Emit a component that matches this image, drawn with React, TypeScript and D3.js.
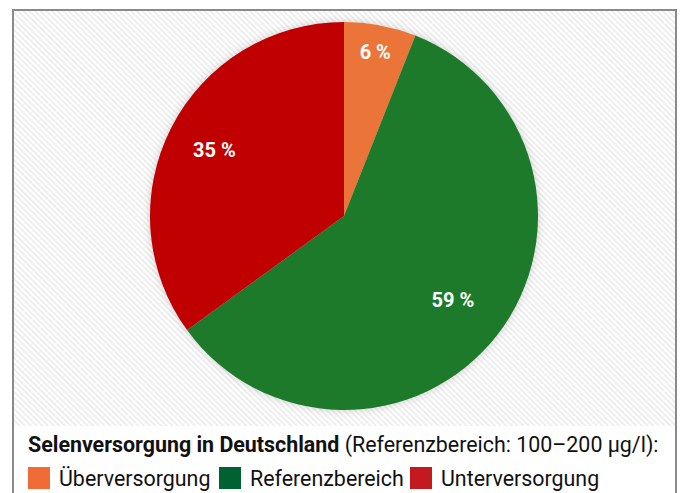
import React from 'react';
import * as d3 from 'd3';

const width = 680;
const height = 493;

const labels = ['Überversorgung', 'Referenzbereich', 'Unterversorgung'];
const values = [6, 59, 35];
const pieColors = ['#eb7438', '#1e7a2c', '#c00000'];
const legendColors = ['#ef6c36', '#006233', '#c41a1f'];

const cx = 344;
const cy = 216;
const radius = 194;

export default function App() {
  const pie = d3.pie<number>().sort(null).value(d => d);
  const arcs = pie(values);
  const arc = d3.arc<d3.PieArcDatum<number>>().innerRadius(0).outerRadius(radius);
  // label distance from centre per slice, as a share of the radius
  const labelR = [0.86, 0.71, 0.75];

  const legendX = [28, 219, 410];

  return (
    <svg width={width} height={height} style={{ position: 'absolute', left: 0, top: 0 }} fontFamily="Roboto, sans-serif">
      <defs>
        <pattern id="stripes" width="4" height="4" patternUnits="userSpaceOnUse" patternTransform="rotate(-45)">
          <rect width="4" height="4" fill="#ffffff" />
          <rect width="1.6" height="4" fill="#ebebeb" />
        </pattern>
        <filter id="shadow" x="-20%" y="-20%" width="140%" height="140%">
          <feDropShadow dx="0" dy="0" stdDeviation="4" floodColor="#000" floodOpacity="0.18" />
        </filter>
      </defs>
      <rect x={0} y={0} width={width} height={height} fill="#fff" />
      <rect x={13} y={10} width={663} height={416} fill="url(#stripes)" />
      <rect x={13} y={10} width={663} height={500} fill="none" stroke="#8a8a8a" strokeWidth={2} />

      <g transform={`translate(${cx},${cy})`}>
        <g filter="url(#shadow)">
          {arcs.map((a, i) => (
            <path key={i} d={arc(a) || ''} fill={pieColors[i]} />
          ))}
        </g>
        {arcs.map((a, i) => {
          const r = radius * labelR[i];
          const [x, y] = d3.arc<d3.PieArcDatum<number>>().innerRadius(r).outerRadius(r).centroid(a);
          return (
            <text key={i} x={x} y={y} textAnchor="middle" dominantBaseline="central" fill="#fff" fontWeight="bold" fontSize={20}>
              {a.data} %
            </text>
          );
        })}
      </g>

      <text x={28} y={452} fontSize={21.4} fill="#111">
        <tspan fontWeight="bold">Selenversorgung in Deutschland</tspan>
        <tspan> (Referenzbereich: 100–200 µg/l):</tspan>
      </text>
      {labels.map((l, i) => (
        <g key={l} transform={`translate(${legendX[i]},467)`}>
          <rect width={22} height={22} fill={legendColors[i]} />
          <text x={31} y={19} fontSize={21.4} fill="#111">{l}</text>
        </g>
      ))}
    </svg>
  );
}
